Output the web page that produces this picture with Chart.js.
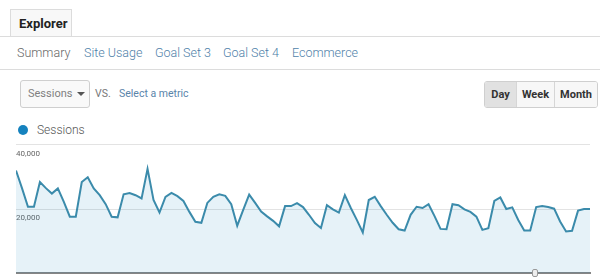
<!DOCTYPE html>
<html>
<head>
<meta charset="utf-8">
<title>Explorer - Sessions</title>
<script src="https://cdn.jsdelivr.net/npm/chart.js@4"></script>
<style>
  * { box-sizing: border-box; }
  html, body { margin: 0; padding: 0; }
  body {
    width: 600px; height: 278px; position: relative; overflow: hidden;
    background: #fff; font-family: Roboto, "Noto Sans", Arial, sans-serif;
  }
  .tab {
    position: absolute; left: 10px; top: 9px; width: 62px; height: 28px;
    border: 1px solid #dcdcdc; border-bottom: none; background: #f8f8f8;
    font-weight: 700; font-size: 13px; color: #222;
    line-height: 27px; padding-left: 8px;
  }
  .rule { position: absolute; left: 0; width: 600px; height: 1px; background: #dcdcdc; }
  .subnav { position: absolute; top: 45px; left: 0; font-size: 12.5px; line-height: 16px; font-weight: 300; }
  .subnav span { position: absolute; white-space: nowrap; color: #4f7fa9; }
  .subnav span.cur { color: #666; }
  .select {
    position: absolute; left: 20px; top: 80px; width: 70px; height: 28px;
    border: 1px solid #cfcfcf; border-radius: 3px; background: #f9f9f9;
    font-size: 11px; color: #808080; line-height: 26px; padding-left: 7px;
  }
  .select .caret {
    position: absolute; left: 56px; top: 11px; width: 0; height: 0;
    border-left: 4px solid transparent; border-right: 4px solid transparent;
    border-top: 4px solid #555;
  }
  .vs { position: absolute; left: 95px; top: 87px; font-size: 10.5px; color: #777; }
  .metric { position: absolute; left: 119px; top: 87px; font-size: 10.5px; color: #5a84aa; }
  .btns {
    position: absolute; left: 484px; top: 81px; height: 27px; display: flex;
    border: 1px solid #cfcfcf; border-radius: 3px; overflow: hidden;
  }
  .btns div {
    font-size: 11px; font-weight: 700; color: #333; line-height: 25px;
    text-align: center; background: #f7f7f7; border-left: 1px solid #d6d6d6;
  }
  .btns div:first-child { border-left: none; background: #e1e1e1; }
  .legend { position: absolute; left: 18px; top: 122px; font-size: 12px; color: #555; line-height: 16px; font-weight: 300; }
  .legend i {
    position: absolute; left: 0; top: 3px; width: 10px; height: 10px;
    border-radius: 50%; background: #1582be;
  }
  .legend span { position: absolute; left: 19px; top: 0; white-space: nowrap; }
  .chart-box { position: absolute; left: 16px; top: 140px; width: 575px; height: 138px; }
  .handle {
    position: absolute; left: 532px; top: 269px; width: 6px; height: 8px;
    border: 1px solid #999; border-radius: 2px; background: #eee;
  }
</style>
</head>
<body>
  <div class="tab">Explorer</div>
  <div class="rule" style="top:36px"></div>
  <div class="subnav">
    <span class="cur" style="left:17px">Summary</span>
    <span style="left:84px">Site Usage</span>
    <span style="left:155px">Goal Set 3</span>
    <span style="left:223px">Goal Set 4</span>
    <span style="left:292px">Ecommerce</span>
  </div>
  <div class="rule" style="top:69px"></div>

  <div class="select">Sessions<span class="caret"></span></div>
  <div class="vs">VS.</div>
  <div class="metric">Select a metric</div>
  <div class="btns">
    <div style="width:31px">Day</div>
    <div style="width:38px">Week</div>
    <div style="width:43px">Month</div>
  </div>

  <div class="legend"><i></i><span>Sessions</span></div>

  <div class="chart-box"><canvas id="sessionsChart"></canvas></div>
  <div class="handle"></div>

<script>
// Daily sessions
const sessions = [
  32000, 26500, 20700, 20700, 28400, 26500, 24800, 26400, 22200, 17600,
  17600, 28400, 29900, 26400, 24300, 21500, 17600, 17400, 24600, 25000,
  24300, 23300, 32500, 22800, 18900, 23800, 25000, 24000, 22500, 19100,
  16000, 15700, 21900, 23800, 24600, 24100, 21500, 14800, 19700, 24500,
  21900, 19200, 17700, 16300, 14600, 20900, 20900, 21800, 20600, 18200,
  15600, 14100, 21200, 19900, 18900, 24300, 20300, 16600, 12700, 22800,
  23800, 20900, 18200, 15700, 13700, 13300, 18200, 20700, 20300, 21500,
  17800, 13800, 13700, 21500, 21200, 19900, 19100, 17600, 13500, 14000,
  22500, 23600, 20000, 20500, 16600, 13300, 13300, 20600, 20900, 20600,
  20100, 16100, 13000, 13200, 19500, 20000, 20000
];
const days = sessions.map((v, i) => 'Day ' + (i + 1));
const yTicks = [0, 20000, 40000];

function initSessionsChart() {
  const ctx = document.getElementById('sessionsChart');
  if (!ctx) return;
  new Chart(ctx, {
    type: 'line',
    data: {
      labels: days,
      datasets: [{
        label: 'Sessions', data: sessions,
        borderColor: '#3b8bab', backgroundColor: 'rgba(5,128,190,0.1)',
        borderWidth: 2, fill: 'origin', tension: 0,
        pointRadius: 0, pointHoverRadius: 0
      }]
    },
    options: {
      responsive: true, maintainAspectRatio: false, animation: false,
      layout: { padding: { top: 4, bottom: 4, left: 0, right: 1 } },
      plugins: { legend: { display: false }, tooltip: { enabled: false } },
      scales: {
        x: {
          grid: { display: false, drawTicks: false },
          border: { color: '#858585', width: 2 },
          ticks: { display: false }
        },
        y: {
          min: 0, max: 40000,
          afterBuildTicks: axis => { axis.ticks = yTicks.map(value => ({ value })); },
          grid: { color: '#e3e3e3', drawTicks: false },
          border: { display: false },
          ticks: {
            mirror: true, padding: 0, labelOffset: 9, autoSkip: false,
            color: '#666', font: { family: 'Liberation Sans Narrow, Roboto', size: 8 },
            callback: v => v === 0 ? '' : v.toLocaleString('en-US')
          }
        }
      }
    }
  });
}

document.addEventListener('DOMContentLoaded', initSessionsChart);
</script>
</body>
</html>
